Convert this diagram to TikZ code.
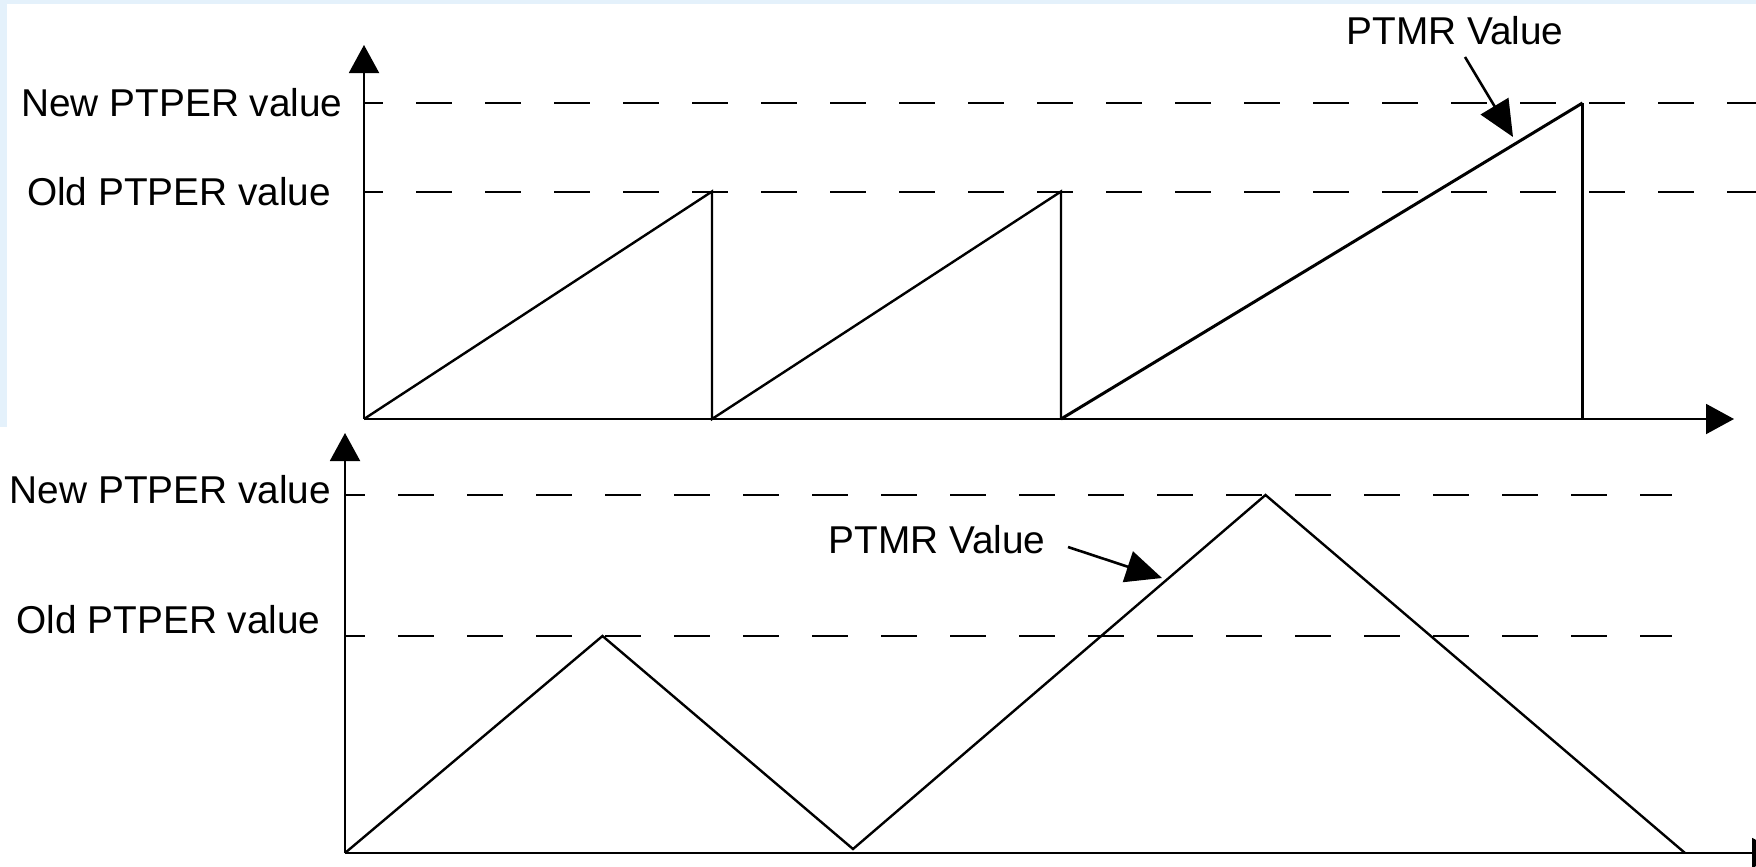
\documentclass[tikz,border=0pt]{standalone}
\usepackage{fontspec}
\setmainfont{Liberation Sans}
\usetikzlibrary{arrows.meta}
\definecolor{slideblue}{HTML}{E4F1FB}
\begin{document}
\begin{tikzpicture}[x=0.5pt,y=-0.5pt,
  lbl/.style={font=\fontsize{19.4}{23}\selectfont, inner sep=0pt},
  axisline/.style={line width=1pt, -{Triangle[length=14pt,width=15pt]}},
  dashline/.style={line width=1pt, dash pattern=on 18pt off 16.5pt, dash phase=8.5pt},
  wave/.style={line width=1.2pt, line join=miter},
  callout/.style={line width=1.3pt, -{Triangle[length=18pt,width=16pt]}}]
\useasboundingbox (0,0) rectangle (1756,867);
\clip (0,0) rectangle (1756,867);
\fill[white] (0,0) rectangle (1756,867);
\fill[slideblue] (0,0) rectangle (1756,4);
\fill[slideblue] (0,0) rectangle (7,427);

% ---------- top chart ----------
\coordinate (tO) at (364,419);
\coordinate (tY) at (364,45);
\coordinate (tX) at (1734,419);
\coordinate (tNew) at (364,103);
\coordinate (tNewE) at (1756,103);
\coordinate (tOld) at (364,191.5);
\coordinate (tOldE) at (1756,191.5);
\coordinate (tP1) at (712,191.5);
\coordinate (tB1) at (712,419);
\coordinate (tP2) at (1061,191.5);
\coordinate (tB2) at (1061,419);
\coordinate (tP3) at (1582.5,103);
\coordinate (tB3) at (1582.5,419);

\draw[dashline] (tNew) -- (tNewE);
\draw[dashline] (tOld) -- (tOldE);
\draw[axisline] (tO) -- (tY);
\draw[axisline] (tO) -- (tX);
\draw[wave] (tO) -- (tP1) -- (tB1) -- (tP2) -- (tB2);
\draw[wave, line width=1.5pt] (tB2) -- (tP3);
\draw[wave] (tP3) -- (tB3);

\node[lbl, anchor=east] (tNewL) at (343,103) {New PTPER value};
\node[lbl, anchor=east] (tOldL) at (331.5,191.5) {Old PTPER value};
\node[lbl] (tPTMR) at (1455,31) {PTMR Value};
\coordinate (tArS) at (1465,57);
\coordinate (tArE) at (1513,137);
\draw[callout] (tArS) -- (tArE);

% ---------- bottom chart ----------
\coordinate (bO) at (345,853);
\coordinate (bY) at (345,433);
\coordinate (bX) at (1780,853);
\coordinate (bNew) at (345,495);
\coordinate (bNewE) at (1672,495);
\coordinate (bOld) at (345,636);
\coordinate (bOldE) at (1672,636);
\coordinate (bP1) at (602.5,636);
\coordinate (bV1) at (853,849);
\coordinate (bP2) at (1265.5,495);
\coordinate (bE) at (1685,853);

\draw[dashline, dash phase=8pt] (bNew) -- (bNewE);
\draw[dashline, dash phase=8pt] (bOld) -- (bOldE);
\draw[axisline] (bO) -- (bY);
\draw[axisline] (bO) -- (bX);
\draw[wave] (bO) -- (bP1) -- (bV1) -- (bP2) -- (bE);

\node[lbl, anchor=east] (bNewL) at (331.5,490) {New PTPER value};
\node[lbl, anchor=east] (bOldL) at (321,620) {Old PTPER value};
\node[lbl] (bPTMR) at (937,540) {PTMR Value};
\coordinate (bArS) at (1068,547);
\coordinate (bArE) at (1162,578);
\draw[callout] (bArS) -- (bArE);
\end{tikzpicture}
\end{document}
